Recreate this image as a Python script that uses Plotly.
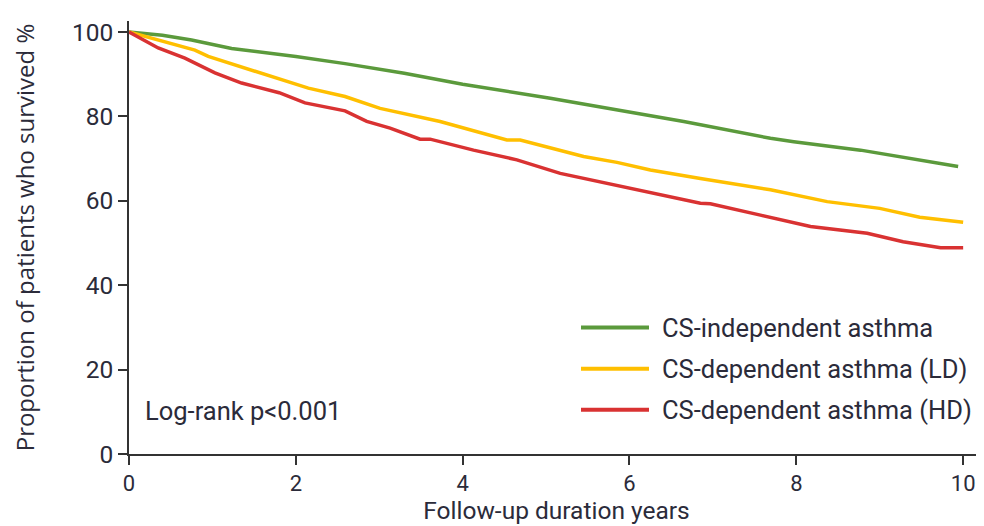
import plotly.graph_objects as go

# ---- data ----
t_indep = [0, 0.4, 0.75, 1.23, 2.0, 2.59, 3.3, 4.0, 5.05, 5.85, 6.65, 7.69, 7.97, 8.77, 9.94]
v_indep = [100, 99.2, 98.1, 96.1, 94.2, 92.5, 90.2, 87.6, 84.3, 81.6, 78.8, 74.8, 74.0, 72.0, 68.1]

t_ld = [0, 0.3, 0.55, 0.79, 0.95, 1.27, 1.75, 2.15, 2.59, 3.01, 3.73, 4.53, 4.69, 5.17,
        5.45, 5.85, 6.25, 6.85, 7.69, 8.37, 9.0, 9.48, 10.0]
v_ld = [100, 98.4, 96.9, 95.7, 94.2, 92.2, 89.4, 86.7, 84.7, 81.9, 78.8, 74.4, 74.4, 72.0,
        70.5, 69.1, 67.3, 65.3, 62.6, 59.8, 58.2, 56.1, 54.9]

t_hd = [0, 0.35, 0.67, 1.03, 1.35, 1.71, 1.8, 2.11, 2.59, 2.85, 3.13, 3.49, 3.61, 4.13,
        4.65, 5.17, 5.65, 6.25, 6.85, 6.97, 7.29, 7.57, 8.17, 8.85, 9.28, 9.73, 10.0]
v_hd = [100, 96.2, 93.8, 90.3, 87.9, 85.9, 85.6, 83.2, 81.3, 78.8, 77.2, 74.6, 74.6, 72.0,
        69.7, 66.5, 64.5, 61.8, 59.4, 59.3, 57.8, 56.6, 53.9, 52.3, 50.3, 48.9, 48.9]

series_names = ["CS-independent asthma", "CS-dependent asthma (LD)", "CS-dependent asthma (HD)"]
series_colors = ["#5b9a3c", "#ffbf00", "#d93232"]
x_ticks = [0, 2, 4, 6, 8, 10]
y_ticks = [0, 20, 40, 60, 80, 100]

text_color = "#2b2b3a"
axis_color = "#333333"
FS = 24.5
FS_LEG = 25.5

fig = go.Figure()
for (tx, vy), name, col in zip([(t_indep, v_indep), (t_ld, v_ld), (t_hd, v_hd)],
                               series_names, series_colors):
    fig.add_trace(go.Scatter(x=tx, y=vy, mode="lines", name=name,
                             line=dict(color=col, width=3.5), showlegend=False))

# manual legend (long line samples like the reference)
legend_rows = [0.292, 0.197, 0.102]  # paper y of each row
for name, col, py in zip(series_names, series_colors, legend_rows):
    fig.add_shape(type="line", xref="paper", yref="paper",
                  x0=(581 - 129) / 855, x1=(649 - 129) / 855, y0=py, y1=py,
                  line=dict(color=col, width=4))
    fig.add_annotation(xref="paper", yref="paper", x=(660 - 129) / 855, y=py,
                       text=name, showarrow=False, xanchor="left", yanchor="middle",
                       font=dict(family="Roboto", size=FS_LEG, color=text_color))

fig.add_annotation(xref="x", yref="y", x=0.17, y=10.3, text="Log-rank p<0.001",
                   showarrow=False, xanchor="left", yanchor="middle",
                   font=dict(family="Roboto", size=FS_LEG, color=text_color))

fig.update_layout(
    width=976, height=518,
    margin=dict(l=121, r=0, t=13, b=72),
    paper_bgcolor="white", plot_bgcolor="white",
    font=dict(family="Roboto", color=text_color),
    xaxis=dict(range=[0, 10.25], tickvals=x_ticks, ticks="outside", ticklen=9,
               tickwidth=1.5, tickcolor=axis_color, showline=True, linecolor=axis_color,
               linewidth=1.5, showgrid=False, zeroline=False,
               tickfont=dict(family="Roboto", size=22, color=text_color),
               title=dict(text="Follow-up duration years", standoff=7,
                          font=dict(family="Roboto", size=24.5, color=text_color))),
    yaxis=dict(range=[0, 102.6], tickvals=y_ticks, ticks="outside", ticklen=9,
               tickwidth=1.5, tickcolor=axis_color, showline=True, linecolor=axis_color,
               linewidth=1.5, showgrid=False, zeroline=False,
               tickfont=dict(family="Roboto", size=FS, color=text_color),
               title=dict(text="Proportion of patients who survived %", standoff=40,
                          font=dict(family="Open Sans", size=24, color=text_color))),
)

fig.write_html("out.html")
